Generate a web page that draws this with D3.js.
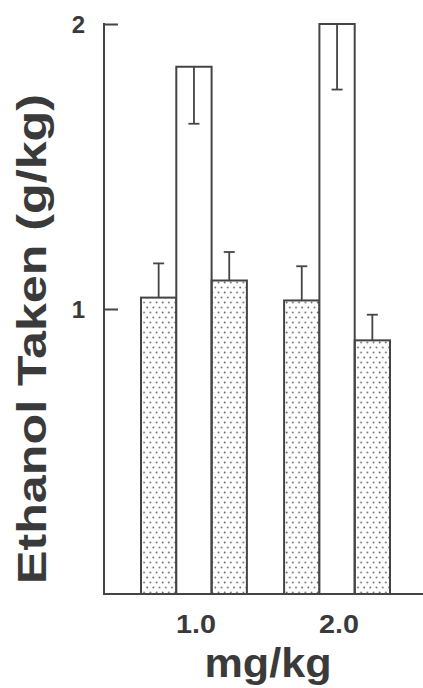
<!DOCTYPE html>
<html>
<head>
<meta charset="utf-8">
<script src="https://cdn.jsdelivr.net/npm/d3@7"></script>
<style>
  html, body { margin: 0; padding: 0; background: #fff; }
  svg { display: block; }
  text { font-family: "Liberation Sans", Arial, Helvetica, sans-serif; font-weight: bold; fill: #3a3a3a; }
</style>
</head>
<body>
<svg id="chart" width="423" height="688"></svg>
<script>
// ---- data ----
const groups = ["1.0", "2.0"];
const subgroups = ["pre", "drug", "post"];
const fills = ["dots", "open", "dots"];
const means = [
  [1.04, 1.85, 1.10],
  [1.03, 2.00, 0.89]
];
const errs = [
  [0.12, 0.20, 0.10],
  [0.12, 0.23, 0.09]
];
const yTicks = [1, 2];
const yTitle = "Ethanol Taken (g/kg)";
const xTitle = "mg/kg";

// ---- layout ----
const W = 423, H = 688;
const ink = "#444";
const svg = d3.select("#chart");

const y = d3.scaleLinear().domain([0, 2]).range([594, 24]);
const x0 = d3.scaleBand().domain(groups).range([141, 390]).paddingInner(0.26).paddingOuter(0);
const x1 = d3.scaleBand().domain(subgroups).range([0, x0.bandwidth()]).padding(0);

// dot pattern
const defs = svg.append("defs");
const pat = defs.append("pattern").attr("id", "dots")
  .attr("patternUnits", "userSpaceOnUse")
  .attr("width", 6.2).attr("height", 10);
pat.append("circle").attr("cx", 1.5).attr("cy", 2.5).attr("r", 0.9).attr("fill", "#666");
pat.append("circle").attr("cx", 4.6).attr("cy", 7.5).attr("r", 0.9).attr("fill", "#666");

// bars
const rows = [];
groups.forEach((g, gi) => subgroups.forEach((s, si) => {
  rows.push({ g, s, si, v: means[gi][si], e: errs[gi][si], fill: fills[si] });
}));

const gBars = svg.append("g");
gBars.selectAll("rect").data(rows).join("rect")
  .attr("x", d => x0(d.g) + x1(d.s))
  .attr("y", d => y(d.v))
  .attr("width", x1.bandwidth())
  .attr("height", d => y(0) - y(d.v))
  .attr("fill", d => d.fill === "dots" ? "url(#dots)" : "#fff")
  .attr("stroke", ink).attr("stroke-width", 2);

// error bars: up for dotted bars, down (inside) for open bars
const cap = 5.5;
const eb = svg.append("g").attr("stroke", ink).attr("stroke-width", 1.8);
rows.forEach(d => {
  const cx = x0(d.g) + x1(d.s) + x1.bandwidth() / 2;
  const yEnd = d.fill === "open" ? y(d.v - d.e) : y(d.v + d.e);
  eb.append("line").attr("x1", cx).attr("x2", cx).attr("y1", y(d.v)).attr("y2", yEnd);
  eb.append("line").attr("x1", cx - cap).attr("x2", cx + cap).attr("y1", yEnd).attr("y2", yEnd);
});

// y axis
const axX = 104;
const yAxis = svg.append("g").attr("transform", `translate(${axX},0)`)
  .call(d3.axisRight(y).tickValues(yTicks).tickSize(14).tickFormat(""));
yAxis.select(".domain").remove();
yAxis.selectAll(".tick line").attr("stroke", ink).attr("stroke-width", 2);
svg.append("line").attr("x1", axX).attr("x2", axX).attr("y1", y(2) - 1).attr("y2", y(0))
  .attr("stroke", ink).attr("stroke-width", 2);
svg.selectAll(".ylab").data(yTicks).join("text").attr("class", "ylab")
  .attr("x", 85).attr("y", d => y(d)).attr("dy", "0.36em")
  .attr("text-anchor", "end").attr("font-size", 24)
  .text(d => d3.format("d")(d));

// x axis
svg.append("line").attr("x1", axX - 1).attr("x2", W).attr("y1", y(0)).attr("y2", y(0))
  .attr("stroke", ink).attr("stroke-width", 2);
svg.selectAll(".xlab").data(groups).join("text").attr("class", "xlab")
  .attr("x", d => x0(d) + x0.bandwidth() / 2 + 2).attr("y", 633)
  .attr("text-anchor", "middle").attr("font-size", 25)
  .attr("textLength", 40).attr("lengthAdjust", "spacingAndGlyphs")
  .text(d => d);

// titles
svg.append("text").attr("x", 268).attr("y", 677)
  .attr("text-anchor", "middle").attr("font-size", 40)
  .attr("textLength", 127).attr("lengthAdjust", "spacingAndGlyphs")
  .text(xTitle);
svg.append("text")
  .attr("transform", `translate(46,339) rotate(-90)`)
  .attr("text-anchor", "middle").attr("font-size", 40)
  .attr("textLength", 490).attr("lengthAdjust", "spacingAndGlyphs")
  .text(yTitle);
</script>
</body>
</html>
